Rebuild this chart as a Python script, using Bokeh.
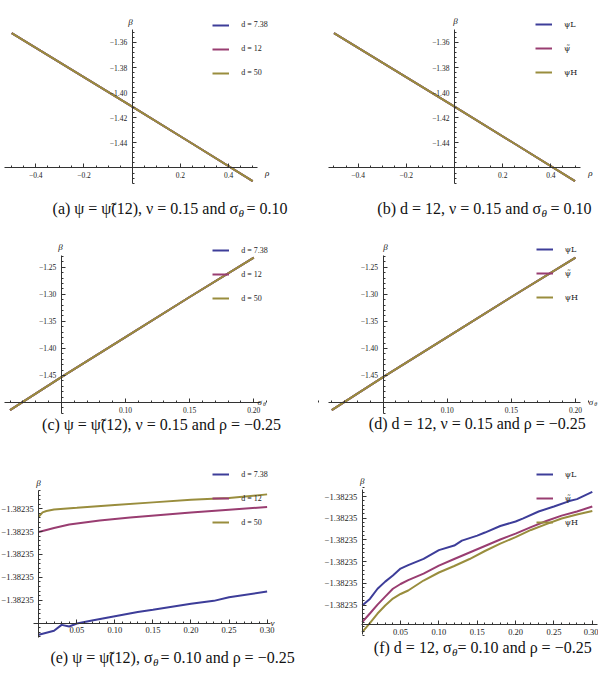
import numpy as np
from bokeh.plotting import figure
from bokeh.models import Range1d, FixedTicker, Legend, LegendItem, Label
from bokeh.layouts import column, row
from bokeh.embed import file_html
from bokeh.resources import INLINE

# ---------------- data ----------------
labels_d = ["d = 7.38", "d = 12", "d = 50"]
labels_psi = ["ψL", "ψ̃", "ψH"]

# (a),(b): beta vs rho (all three series coincide)
rho = [-0.5, -0.25, 0.0, 0.25, 0.5]
beta_rho = [-1.3527, -1.3818, -1.4112, -1.4407, -1.4705]

# (c),(d): beta vs sigma_theta (all three series coincide)
sigma = [0.01, 0.05, 0.10, 0.15, 0.20]
beta_sigma = [-1.514, -1.453, -1.379, -1.305, -1.232]

# (e): beta vs nu for d = 7.38, 12, 50
nu_e_blue = [0.0, 0.02, 0.03, 0.04, 0.05, 0.07, 0.10, 0.13, 0.15, 0.20, 0.23, 0.25, 0.30]
beta_e_blue = [-1.38235151, -1.38235134, -1.38235108, -1.38235115, -1.38235102, -1.38235089,
               -1.38235070, -1.38235052, -1.38235042, -1.38235016, -1.38235003, -1.38234987,
               -1.38234962]
nu_e_red = [0.0, 0.02, 0.04, 0.08, 0.12, 0.16, 0.20, 0.25, 0.30]
beta_e_red = [-1.38234702, -1.38234684, -1.38234669, -1.38234651, -1.38234638, -1.38234627,
              -1.38234616, -1.38234604, -1.38234592]
nu_e_olive = [0.0, 0.005, 0.01, 0.02, 0.05, 0.10, 0.15, 0.20, 0.25, 0.30]
beta_e_olive = [-1.38234634, -1.38234616, -1.38234610, -1.38234603, -1.38234596, -1.38234583,
                -1.38234572, -1.38234561, -1.38234553, -1.38234537]

# (f): beta vs nu for psi_L, psi~, psi_H
nu_f = [0.0, 0.01, 0.02, 0.03, 0.04, 0.05, 0.06, 0.08, 0.10, 0.12, 0.13, 0.15, 0.16, 0.18,
        0.20, 0.21, 0.23, 0.25, 0.27, 0.28, 0.30]
beta_f_L = [-1.38235102, -1.38235072, -1.38235025, -1.38234992, -1.38234964, -1.38234932,
            -1.38234916, -1.38234887, -1.38234847, -1.38234826, -1.38234803, -1.38234780,
            -1.38234766, -1.38234736, -1.38234715, -1.38234701, -1.38234669, -1.38234646,
            -1.38234621, -1.38234612, -1.38234579]
nu_f2 = [0.0, 0.01, 0.02, 0.03, 0.04, 0.05, 0.06, 0.08, 0.10, 0.12, 0.14, 0.16, 0.18, 0.20,
         0.22, 0.24, 0.26, 0.28, 0.30]
beta_f_T = [-1.38235179, -1.38235139, -1.38235098, -1.38235061, -1.38235025, -1.38235003,
            -1.38234985, -1.38234955, -1.38234918, -1.38234888, -1.38234858, -1.38234828,
            -1.38234798, -1.38234771, -1.38234741, -1.38234713, -1.38234688, -1.38234669,
            -1.38234646]
beta_f_H = [-1.38235225, -1.38235183, -1.38235139, -1.38235102, -1.38235070, -1.38235049,
            -1.38235033, -1.38234987, -1.38234950, -1.38234920, -1.38234888, -1.38234851,
            -1.38234817, -1.38234787, -1.38234754, -1.38234727, -1.38234701, -1.38234683,
            -1.38234667]

# tick values
ticks_rho = [-0.4, -0.2, 0.2, 0.4]
ticks_beta_rho = [-1.44, -1.42, -1.40, -1.38, -1.36]
ticks_sigma = [0.10, 0.15, 0.20]
ticks_beta_sigma = [-1.45, -1.40, -1.35, -1.30, -1.25]
ticks_nu = [0.05, 0.10, 0.15, 0.20, 0.25, 0.30]
ticks_beta_e = [-1.382350, -1.382349, -1.382348, -1.382347, -1.382346]
ticks_beta_f = [-1.382351, -1.382350, -1.382349, -1.382348, -1.382347, -1.382346]

# ---------------- style ----------------
COLORS = ["#3D3D99", "#993D71", "#998D3D"]
SERIF = "'Liberation Serif', 'DejaVu Serif', serif"
DSERIF = "'DejaVu Serif', serif"
AX = "#333333"
CAP = 16


def fmt(v, nd):
    return (f"{v:.{nd}f}").replace("-", "\u2212")


def minor(lo, hi, step):
    n = int(round((hi - lo) / step))
    return [round(lo + i * step, 10) for i in range(n + 1)]


def make_panel(W, H, xr, yr, xb, yb, x_at, y_at, xt, xnd, xmin, yt, ynd, ymin, fs):
    p = figure(width=W, height=H, x_range=Range1d(*xr), y_range=Range1d(*yr),
               output_backend="svg", toolbar_location=None,
               min_border_left=0, min_border_right=0, min_border_top=0, min_border_bottom=0)
    p.grid.visible = False
    p.outline_line_color = None
    p.background_fill_color = "white"
    p.border_fill_color = "white"
    xa = p.xaxis[0]
    ya = p.yaxis[0]
    xa.fixed_location = y_at
    ya.fixed_location = x_at
    xa.bounds = xb
    ya.bounds = yb
    xa.ticker = FixedTicker(ticks=xt, minor_ticks=xmin)
    ya.ticker = FixedTicker(ticks=yt, minor_ticks=ymin)
    xa.major_label_overrides = {t: fmt(t, xnd) for t in xt}
    ya.major_label_overrides = {t: fmt(t, ynd) for t in yt}
    for ax in (xa, ya):
        ax.axis_line_color = AX
        ax.axis_line_width = 1
        ax.major_tick_line_color = AX
        ax.minor_tick_line_color = AX
        ax.major_tick_in = 4
        ax.major_tick_out = 0
        ax.minor_tick_in = 2
        ax.minor_tick_out = 0
        ax.major_label_text_font = SERIF
        ax.major_label_text_font_size = f"{fs}px"
        ax.major_label_text_color = "#222222"
    xa.major_label_standoff = 4
    ya.major_label_standoff = 5
    p._H = H
    return p


def put(p, x, y, text, size, style="normal", align="left", baseline="middle", font=SERIF):
    p.add_layout(Label(x=x, y=p._H - y, x_units="screen", y_units="screen",
                       text=text, text_font=font, text_font_size=f"{size}px",
                       text_font_style=style, text_align=align, text_baseline=baseline,
                       text_color="#111111"))


def add_lines(p, xs_list, ys_list, names, lx, ly_top, font=SERIF):
    rs = []
    for xs, ys, c in zip(xs_list, ys_list, COLORS):
        rs.append(p.line(xs, ys, line_color=c, line_width=2))
    leg = Legend(items=[LegendItem(label=n, renderers=[r]) for n, r in zip(names, rs)],
                 location=(lx, p._H - ly_top - 68), glyph_width=17, glyph_height=20, label_height=20,
                 label_standoff=12, spacing=4, padding=0, margin=0,
                 border_line_alpha=0, background_fill_alpha=0,
                 label_text_font=font, label_text_font_size="8px", label_text_color="#222222")
    p.add_layout(leg)


def caption_sub(p, y, part1, x1, part3, x3, size=CAP):
    put(p, x1, y, part1, size, align="right")
    put(p, x1 + 0.5, y + 4, "θ", 11, style="italic")
    put(p, x3, y, part3, size)


# ---------------- panel (a) ----------------
pa = make_panel(300, 230, (-0.54647, 0.69834), (-1.50977, -1.32664),
                (-0.5299, 0.5199), (-1.47273, -1.35008), 0.0, -1.46,
                ticks_rho, 1, minor(-0.5, 0.5, 0.05), ticks_beta_rho, 2, minor(-1.472, -1.352, 0.004), 7.5)
add_lines(pa, [rho] * 3, [beta_rho] * 3, labels_d, 212.3, 14.7)
put(pa, 130, 21, "β", 9, "italic", "center")
put(pa, 266.7, 172, "ρ", 9, "italic", "center")
caption_sub(pa, 208.3, "(a) ψ = ψ̃(12), ν = 0.15 and σ", 237.5, "= 0.10", 246)

# ---------------- panel (b) ----------------
pb = make_panel(298, 230, (-0.63900, 0.59751), (-1.50977, -1.32664),
                (-0.5228, 0.5228), (-1.47273, -1.35008), 0.0, -1.46,
                ticks_rho, 1, minor(-0.5, 0.5, 0.05), ticks_beta_rho, 2, minor(-1.472, -1.352, 0.004), 7.5)
add_lines(pb, [rho] * 3, [beta_rho] * 3, labels_psi, 235, 14, font=DSERIF)
put(pb, 155, 20.7, "β", 9, "italic", "center")
put(pb, 290, 172.3, "ρ", 9, "italic", "center")
caption_sub(pb, 208.3, "(b) d = 12, ν = 0.15 and σ", 240.5, "= 0.10", 250)

# ---------------- panel (c) ----------------
pc = make_panel(300, 220, (0.002572, 0.23640), (-1.58870, -1.18204),
                (0.00569, 0.20522), (-1.52093, -1.22833), 0.05, -1.50,
                ticks_sigma, 2, minor(0.0, 0.21, 0.01), ticks_beta_sigma, 2, minor(-1.52, -1.23, 0.01), 7.5)
add_lines(pc, [sigma] * 3, [beta_sigma] * 3, labels_d, 212.3, 10)
put(pc, 60, 16, "β", 9, "italic", "center")
put(pc, 257, 171.7, "σ", 9, "italic", "left")
put(pc, 262.5, 173.5, "θ", 6, "italic", "left")
put(pc, 161, 194, "(c) ψ = ψ̃(12), ν = 0.15 and ρ = −0.25", CAP, align="center")

# ---------------- panel (d) ----------------
pd = make_panel(298, 220, (-0.014342, 0.21793), (-1.58870, -1.18204),
                (0.00752, 0.2039), (-1.52093, -1.22833), 0.05, -1.50,
                ticks_sigma, 2, minor(0.0, 0.21, 0.01), ticks_beta_sigma, 2, minor(-1.52, -1.23, 0.01), 7.5)
add_lines(pd, [sigma] * 3, [beta_sigma] * 3, labels_psi, 235.7, 9.3, font=DSERIF)
put(pd, 85, 16, "β", 9, "italic", "center")
put(pd, 288.3, 171.7, "σ", 9, "italic", "left")
put(pd, 293.8, 173.5, "θ", 6, "italic", "left")
put(pd, 68.3, 192.7, "(d) d = 12, ν = 0.15 and ρ = −0.25", CAP)

# ---------------- panel (e) ----------------
pe = make_panel(300, 234, (-0.050329, 0.34389), (-1.38235369, -1.38234345),
                (-0.00696, 0.30447), (-1.38235163, -1.3823452), 0.0, -1.382351,
                ticks_nu, 2, minor(0.0, 0.30, 0.01), ticks_beta_e, 5, minor(-1.3823516, -1.3823452, 0.0000002), 8.5)
add_lines(pe, [nu_e_blue, nu_e_red, nu_e_olive], [beta_e_blue, beta_e_red, beta_e_olive], labels_d, 212.3, 14.3)
put(pe, 38, 32, "β", 9, "italic", "center")
put(pe, 272, 172, "ν", 9, "italic", "center")
caption_sub(pe, 207.3, "(e) ψ = ψ̃(12), σ", 152, "= 0.10 and ρ = −0.25", 160)

# ---------------- panel (f) ----------------
pf = make_panel(298, 234, (-0.080443, 0.30808), (-1.38235466, -1.38234388),
                (-0.0009, 0.3068), (-1.38235236, -1.38234568), 0.0, -1.3823519,
                ticks_nu, 2, minor(0.0, 0.30, 0.01), ticks_beta_f, 5, minor(-1.3823524, -1.3823456, 0.0000002), 8.5)
add_lines(pf, [nu_f, nu_f2, nu_f2], [beta_f_L, beta_f_T, beta_f_H], labels_psi, 235.7, 14, font=DSERIF)
put(pf, 61.7, 30, "β", 9, "italic", "center")
caption_sub(pf, 197.3, "(f) d = 12, σ", 151, "= 0.10 and ρ = −0.25", 157)

layout = column(row(pa, pb), row(pc, pd), row(pe, pf))
open("out.html", "w").write(file_html(layout, INLINE))
